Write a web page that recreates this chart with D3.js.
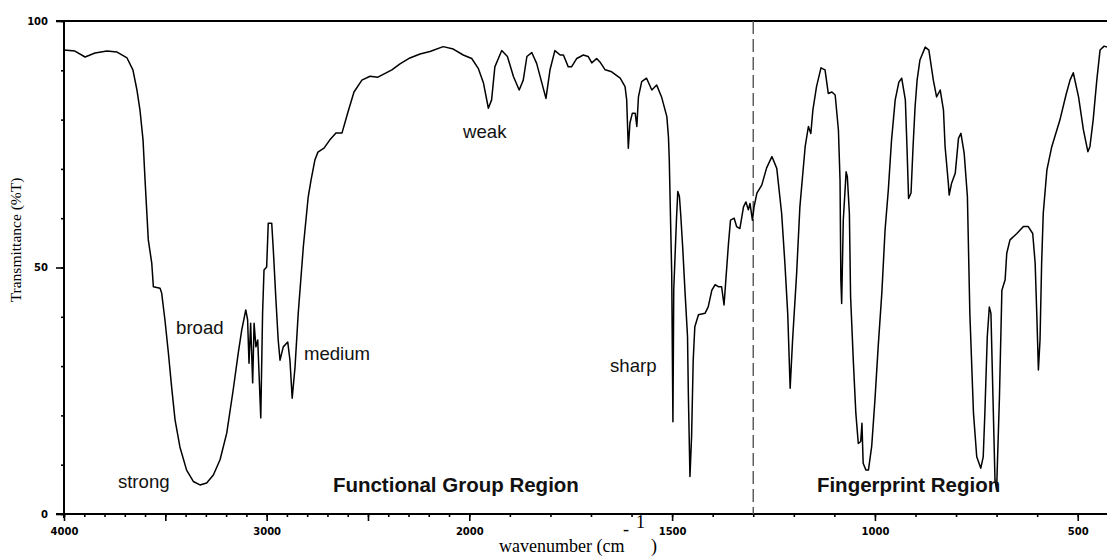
<!DOCTYPE html>
<html>
<head>
<meta charset="utf-8">
<script src="https://cdn.jsdelivr.net/npm/d3@7"></script>
<style>
  body { margin: 0; background: #fff; }
  svg { display: block; }
</style>
</head>
<body>
<svg id="chart" width="1107" height="557"></svg>
<script>
// IR spectrum: wavenumber (cm-1) and percent transmittance
const wavenumber = [
  4000, 3946, 3896, 3847, 3788, 3738, 3689, 3660, 3640, 3625, 3610, 3600, 3584, 3567, 3559, 3526,
  3518, 3502, 3485, 3469, 3452, 3428, 3395, 3362, 3329, 3296, 3263, 3230, 3197, 3165, 3140, 3123,
  3103, 3094, 3087, 3079, 3069, 3062, 3053, 3044, 3029, 3020, 3013, 3000, 2992, 2975, 2967, 2955,
  2943, 2934, 2918, 2896, 2885, 2874, 2860, 2844, 2819, 2795, 2781, 2762, 2747, 2717, 2688, 2658,
  2628, 2599, 2569, 2530, 2490, 2451, 2382, 2342, 2293, 2243, 2194, 2129, 2079, 2030, 1994, 1978,
  1965, 1953, 1945, 1937, 1920, 1906, 1891, 1877, 1867, 1858, 1846, 1834, 1821, 1811, 1801, 1789,
  1776, 1768, 1756, 1748, 1735, 1719, 1707, 1698, 1686, 1678, 1665, 1649, 1628, 1616, 1612, 1608,
  1604, 1598, 1591, 1587, 1583, 1575, 1563, 1550, 1538, 1526, 1513, 1509, 1507, 1501, 1498, 1496,
  1489, 1486, 1482, 1479, 1474, 1468, 1462, 1460, 1456, 1452, 1448, 1444, 1435, 1419, 1411, 1402,
  1394, 1386, 1378, 1372, 1367, 1361, 1356, 1347, 1341, 1333, 1324, 1318, 1312, 1308, 1302, 1298,
  1291, 1279, 1267, 1254, 1242, 1230, 1222, 1215, 1209, 1203, 1193, 1185, 1172, 1164, 1158, 1153,
  1144, 1133, 1123, 1115, 1106, 1098, 1090, 1086, 1084, 1082, 1078, 1071, 1068, 1063, 1060, 1053,
  1047, 1041, 1035, 1032, 1029, 1022, 1016, 1008, 1000, 992, 983, 975, 967, 959, 950, 941,
  934, 925, 921, 917, 911, 906, 901, 896, 889, 876, 867, 856, 848, 839, 831, 827,
  819, 817, 811, 802, 794, 788, 780, 772, 766, 757, 749, 739, 733, 729, 723, 718,
  714, 709, 704, 700, 693, 687, 679, 675, 667, 650, 634, 622, 611, 605, 601, 597,
  593, 589, 585, 576, 564, 544, 529, 519, 511, 498, 486, 475, 470, 462, 453, 445,
  435, 428
];
const transmittance = [
  94.1, 93.9, 92.7, 93.5, 93.9, 93.7, 92.5, 90.1, 86.0, 81.9, 75.9, 67.7, 55.6, 50.9, 46.1, 45.8,
  44.8, 39.4, 32.7, 25.8, 19.1, 13.6, 8.9, 6.6, 5.9, 6.3, 7.9, 11.0, 16.4, 25.2, 32.7, 37.3,
  41.4, 39.4, 30.6, 38.7, 26.6, 38.7, 33.9, 35.3, 19.5, 40.8, 49.5, 50.1, 59.0, 59.0, 53.5, 44.0,
  35.3, 31.2, 33.9, 34.9, 31.2, 23.5, 29.8, 40.8, 54.2, 64.3, 67.7, 71.8, 73.4, 74.2, 75.9, 77.3,
  77.3, 81.5, 85.6, 88.0, 88.8, 88.6, 90.1, 91.3, 92.5, 93.3, 93.8, 94.8, 94.3, 93.1, 92.4, 90.4,
  87.4, 82.3, 84.0, 90.7, 94.0, 92.8, 88.7, 86.0, 88.0, 92.8, 93.6, 91.4, 87.4, 84.3, 90.1, 94.0,
  93.1, 93.1, 90.7, 90.7, 92.4, 93.1, 92.8, 91.5, 92.4, 91.7, 90.1, 89.7, 88.4, 86.7, 84.0, 74.2,
  79.3, 81.3, 81.3, 78.6, 84.6, 87.7, 88.4, 86.0, 87.0, 84.6, 80.6, 76.5, 71.8, 48.8, 18.7, 45.4,
  60.3, 65.4, 64.4, 61.0, 54.2, 44.8, 36.0, 24.5, 7.6, 15.7, 31.2, 38.0, 40.4, 40.7, 42.0, 45.4,
  46.5, 46.1, 46.1, 42.4, 48.1, 54.9, 59.6, 60.0, 58.3, 57.9, 62.3, 63.3, 61.7, 63.0, 59.6, 62.3,
  65.1, 66.7, 70.2, 72.5, 70.1, 61.0, 50.9, 40.7, 25.5, 35.3, 48.8, 62.3, 74.5, 78.6, 77.2, 81.9,
  86.7, 90.5, 90.1, 85.3, 85.6, 85.0, 77.9, 67.7, 47.5, 42.7, 59.6, 69.4, 68.4, 61.0, 44.1, 30.6,
  20.4, 14.3, 14.7, 18.4, 10.3, 8.9, 8.9, 13.7, 23.1, 33.9, 44.8, 57.6, 65.7, 75.9, 84.0, 87.6,
  88.4, 84.0, 74.5, 64.0, 65.1, 74.5, 82.6, 88.0, 92.1, 94.7, 94.1, 88.0, 84.6, 86.0, 81.9, 74.5,
  67.1, 64.7, 67.1, 69.1, 76.2, 77.2, 73.2, 64.4, 40.7, 20.4, 11.6, 9.3, 11.6, 20.4, 36.0, 42.0,
  40.7, 23.8, 6.9, 4.9, 23.8, 45.4, 47.5, 52.9, 55.6, 56.9, 58.3, 58.3, 56.9, 50.9, 40.7, 29.2,
  35.3, 50.9, 61.0, 69.8, 74.5, 79.9, 85.0, 88.0, 89.5, 84.6, 77.9, 73.5, 74.5, 79.9, 88.0, 94.1,
  94.9, 94.7
];

// Axis ticks
const xMinorTicks = d3.range(4000, 399, -100);
const xMajorTicks = [4000, 3500, 3000, 2500, 2000, 1500, 1000, 500];
const xTickLabels = [4000, 3000, 2000, 1500, 1000, 500];
const yMinorTicks = d3.range(0, 101, 10);
const yMajorTicks = [0, 50, 100];
const yTickLabels = [0, 50, 100];

// Region boundary
const regionBoundary = 1300;

// Band annotations, anchored in (wavenumber, %T) units
const bandLabels = ["strong", "broad", "medium", "weak", "sharp"];
const bandLabelWavenumber = [3734, 3447, 2816, 2031, 1653];
const bandLabelT = [5.3, 36.6, 31.2, 76.3, 28.8];
const regionLabels = ["Functional Group Region", "Fingerprint Region"];
const regionLabelWavenumber = [2673, 1143];
const regionLabelT = [4.5, 4.5];

const svg = d3.select("#chart");
const W = 1107;

// Piecewise scale: 2x expansion below 2000 cm-1
const x = d3.scaleLinear()
  .domain([4000, 2000, 400])
  .range([64, 469.3, 1118.3]);
const y = d3.scaleLinear().domain([0, 100]).range([514, 21]);

const tickFont = "bold 10px 'DejaVu Sans', sans-serif";

// Bottom axis: minor ticks, major ticks, labels
function styleAxis(g) {
  g.select(".domain").remove();
  g.selectAll("line").attr("stroke", "#000").attr("stroke-width", 1.6);
}
svg.append("g").attr("transform", `translate(0,${y(0)})`)
  .call(d3.axisBottom(x).tickValues(xMinorTicks).tickSize(3).tickFormat(""))
  .call(styleAxis);
svg.append("g").attr("transform", `translate(0,${y(0)})`)
  .call(d3.axisBottom(x).tickValues(xMajorTicks).tickSize(7).tickFormat(""))
  .call(styleAxis);
svg.append("g").attr("transform", `translate(0,${y(0)})`)
  .call(d3.axisBottom(x).tickValues(xTickLabels).tickSize(0).tickPadding(14).tickFormat(d3.format("d")))
  .call(g => g.select(".domain").remove())
  .selectAll("text").style("font", tickFont).attr("fill", "#000");

// Left axis
svg.append("g").attr("transform", `translate(${x(4000)},0)`)
  .call(d3.axisLeft(y).tickValues(yMinorTicks).tickSize(3).tickFormat(""))
  .call(styleAxis);
svg.append("g").attr("transform", `translate(${x(4000)},0)`)
  .call(d3.axisLeft(y).tickValues(yMajorTicks).tickSize(8).tickFormat(""))
  .call(styleAxis);
svg.append("g").attr("transform", `translate(${x(4000)},0)`)
  .call(d3.axisLeft(y).tickValues(yTickLabels).tickSize(0).tickPadding(16).tickFormat(d3.format("d")))
  .call(g => g.select(".domain").remove())
  .selectAll("text").style("font", tickFont).attr("fill", "#000");

// Frame lines: baseline, top (100 %T) line and y axis
svg.append("line").attr("x1", x(4000) - 8).attr("x2", W).attr("y1", y(0)).attr("y2", y(0))
  .attr("stroke", "#000").attr("stroke-width", 2);
svg.append("line").attr("x1", x(4000) - 8).attr("x2", W).attr("y1", y(100)).attr("y2", y(100))
  .attr("stroke", "#000").attr("stroke-width", 2);
svg.append("line").attr("x1", x(4000)).attr("x2", x(4000)).attr("y1", y(100)).attr("y2", y(0) + 4)
  .attr("stroke", "#000").attr("stroke-width", 2);

// Region boundary (dashed)
svg.append("line")
  .attr("x1", x(regionBoundary)).attr("x2", x(regionBoundary))
  .attr("y1", y(100)).attr("y2", y(0))
  .attr("stroke", "#555").attr("stroke-width", 1.4)
  .attr("stroke-dasharray", "13,5");

// Spectrum trace
const points = wavenumber.map((w, i) => [w, transmittance[i]]);
svg.append("path")
  .datum(points)
  .attr("fill", "none")
  .attr("stroke", "#000")
  .attr("stroke-width", 1.5)
  .attr("stroke-linejoin", "round")
  .attr("d", d3.line().x(d => x(d[0])).y(d => y(d[1])));

// Band annotations
svg.append("g").selectAll("text")
  .data(bandLabels)
  .join("text")
  .attr("x", (d, i) => x(bandLabelWavenumber[i]))
  .attr("y", (d, i) => y(bandLabelT[i]))
  .style("font", "18.6px 'Liberation Sans', Arial, sans-serif")
  .attr("fill", "#111")
  .text(d => d);

svg.append("g").selectAll("text")
  .data(regionLabels)
  .join("text")
  .attr("x", (d, i) => x(regionLabelWavenumber[i]))
  .attr("y", (d, i) => y(regionLabelT[i]))
  .style("font", "bold 20.5px 'Liberation Sans', Arial, sans-serif")
  .attr("fill", "#111")
  .text(d => d);

// Axis titles
const xt = svg.append("text")
  .style("font", "18px 'Liberation Serif', 'Times New Roman', serif")
  .attr("fill", "#000");
xt.append("tspan").attr("x", 499).attr("y", 552).text("wavenumber (cm");
xt.append("tspan").attr("x", 623).attr("y", 535).text("-");
xt.append("tspan").attr("x", 636).attr("y", 528).text("1");
xt.append("tspan").attr("x", 651).attr("y", 552).text(")");

svg.append("text")
  .attr("transform", "translate(21,240) rotate(-90)")
  .attr("text-anchor", "middle")
  .style("font", "15.5px 'Liberation Serif', 'Times New Roman', serif")
  .attr("fill", "#000")
  .text("Transmittance (%T)");
</script>
</body>
</html>
